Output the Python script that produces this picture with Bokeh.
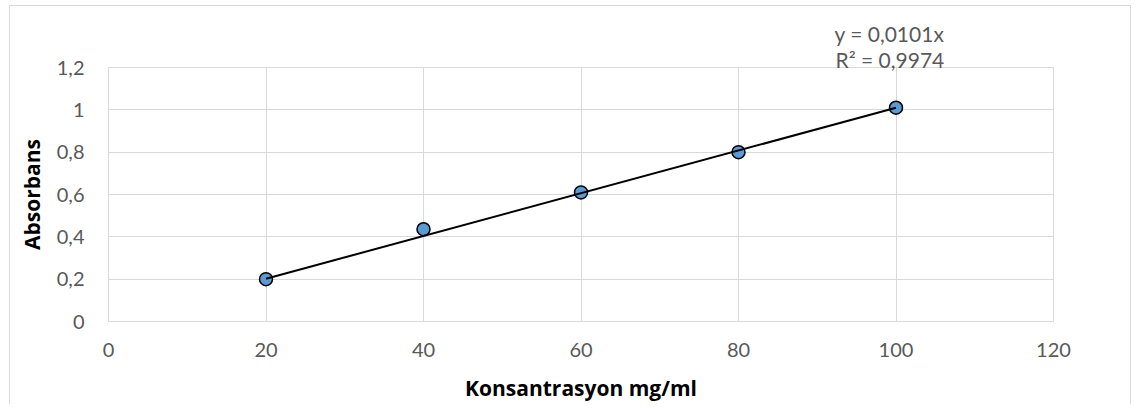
from bokeh.plotting import figure
from bokeh.models import Range1d, FixedTicker, CustomJSTickFormatter, Title
from bokeh.embed import file_html
from bokeh.resources import INLINE

# ---- data ----
konsantrasyon = [20, 40, 60, 80, 100]
absorbans = [0.200, 0.436, 0.610, 0.800, 1.010]
slope = 0.0101
x_ticks = [0, 20, 40, 60, 80, 100, 120]
y_ticks = [0, 0.2, 0.4, 0.6, 0.8, 1.0, 1.2]
eq_text = "y = 0,0101x"
r2_text = "R\u00b2 = 0,9974"
x_title = "Konsantrasyon mg/ml"
y_title = "Absorbans"

trend_x = [min(konsantrasyon), max(konsantrasyon)]
trend_y = [slope * v for v in trend_x]

FONT = "Lato"
TFONT = "Open Sans"
GRAY = "#595959"
GRID = "#d9d9d9"

p = figure(width=1131, height=402, output_backend="svg", toolbar_location=None,
           x_range=Range1d(0, 120), y_range=Range1d(0, 1.2),
           min_border_left=108, min_border_right=78, min_border_top=67, min_border_bottom=81,
           frame_width=945, frame_height=254)
p.styles = {"box-shadow": "inset 9px 5px 0 0 white, inset 10px 6px 0 0 #d9d9d9, inset -1px 0 0 0 #d9d9d9"}
p.border_fill_color = None
p.background_fill_color = "white"
p.outline_line_color = GRID
p.outline_line_width = 1

p.xaxis.ticker = FixedTicker(ticks=x_ticks)
p.yaxis.ticker = FixedTicker(ticks=y_ticks)
p.yaxis.formatter = CustomJSTickFormatter(
    code="return (Math.round(tick*10)/10).toString().replace('.', ',');")

for ax in (p.xaxis, p.yaxis):
    ax.axis_line_color = None
    ax.major_tick_line_color = None
    ax.minor_tick_line_color = None
    ax.major_tick_out = 0
    ax.major_tick_in = 0
    ax.major_label_text_font = FONT
    ax.major_label_text_font_size = "20px"
    ax.major_label_text_color = GRAY
    ax.axis_label_text_font = TFONT
    ax.axis_label_text_font_size = "21px"
    ax.axis_label_text_font_style = "bold"
    ax.axis_label_text_color = "black"

p.xaxis.axis_label = x_title
p.yaxis.axis_label = y_title
p.yaxis.major_label_standoff = 24
p.xaxis.major_label_standoff = 21
p.xaxis.axis_label_standoff = 14
p.yaxis.axis_label_standoff = 8

p.xgrid.grid_line_color = GRID
p.ygrid.grid_line_color = GRID

p.scatter(konsantrasyon, absorbans, marker="circle", size=13,
          fill_color="#5b9bd5", line_color="black", line_width=1.5)
p.line(trend_x, trend_y, line_color="black", line_width=2)

# trendline equation (drawn as titles above the frame, right part)
p.title.text = eq_text
p.title.align = "left"
p.title.vertical_align = "top"
p.title.offset = 726
p.title.text_font = FONT
p.title.text_font_size = "21px"
p.title.text_font_style = "normal"
p.title.text_color = GRAY
try:
    p.title.standoff = 9
except Exception:
    pass
t2 = Title(text=r2_text, align="left", vertical_align="top", offset=727, text_font=FONT,
           text_font_size="21px", text_font_style="normal", text_color=GRAY)
try:
    t2.standoff = -12
except Exception:
    pass
p.add_layout(t2, "above")

open("out.html", "w").write(file_html(p, INLINE))
